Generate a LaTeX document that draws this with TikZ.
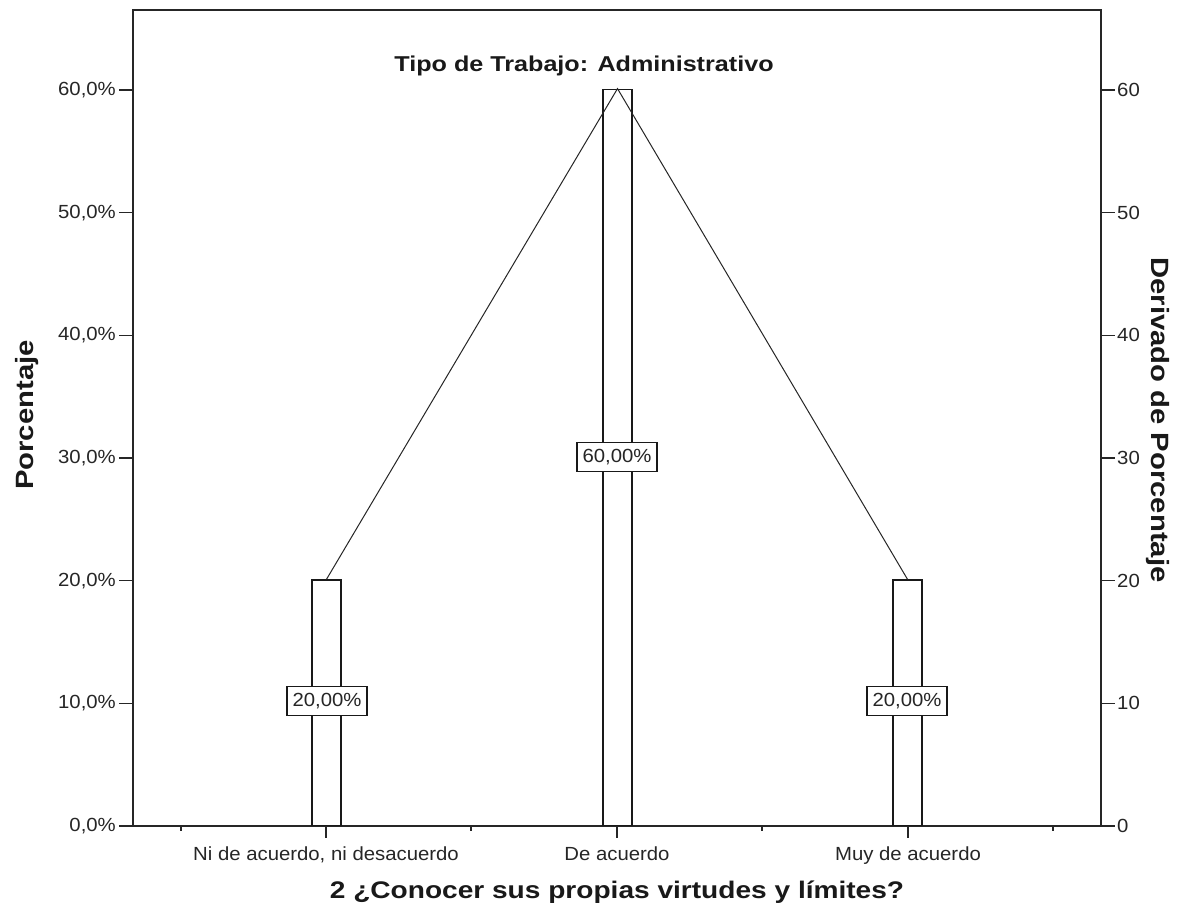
\documentclass[tikz,border=0pt]{standalone}
\usepackage{fontspec}
\setmainfont{Liberation Sans}
\newfontfamily\plainlab[FakeStretch=1.07]{Liberation Sans}
\newfontfamily\boldlab[FakeStretch=1.17]{Liberation Sans}
\begin{document}
\begin{tikzpicture}[x=1pt,y=-1pt,
  axisline/.style={line width=1.6pt,draw=black!85},
  tickmark/.style={line width=1.4pt,draw=black!85},
  ticklab/.style={font=\plainlab\fontsize{19}{21}\selectfont,text=black!85,inner sep=0pt},
  catlab/.style={font=\plainlab\fontsize{19}{21}\selectfont,text=black!85,inner sep=0pt,anchor=base},
  barbox/.style={draw=black!90,fill=white,line width=1.4pt,minimum width=29pt,inner sep=0pt,anchor=south},
  valbox/.style={draw=black!90,fill=white,line width=1.4pt,minimum width=80pt,minimum height=29pt,inner sep=0pt,
    font=\plainlab\fontsize{19}{21}\selectfont,text=black!85},
  trend/.style={line width=1pt,draw=black!85},
  axtitle/.style={font=\boldlab\bfseries\fontsize{24}{26}\selectfont,text=black!90,inner sep=0pt},
  sidetitle/.style={font=\boldlab\bfseries\fontsize{25}{27}\selectfont,text=black!90,inner sep=0pt},
  headtitle/.style={font=\boldlab\bfseries\fontsize{21.5}{23}\selectfont,text=black!90,inner sep=0pt}]
\useasboundingbox[fill=white] (0,0) rectangle (1179,915);

% value axis: 0% at y=826, 10% every 122.67
\def\yzero{826}
\def\ystep{122.67}

% plot frame
\draw[axisline] (133,10) rectangle (1101,826);

% left (percent) and right (count) ticks with labels
\foreach \k/\pl in {0/{0,0\%},1/{10,0\%},2/{20,0\%},3/{30,0\%},4/{40,0\%},5/{50,0\%},6/{60,0\%}}{
  \pgfmathsetmacro{\yy}{\yzero-\k*\ystep}
  \draw[tickmark] (119,\yy) -- (133,\yy);
  \node[ticklab,anchor=east] (pl\k) at (116,\yy) {\pl};
  \draw[tickmark] (1101,\yy) -- (1115,\yy);
  \pgfmathtruncatemacro{\cnt}{\k*10}
  \node[ticklab,anchor=west] (cl\k) at (1117,\yy) {\cnt};
}

% category ticks (major) and separators (minor)
\foreach \xx in {326,617,908}{\draw[tickmark] (\xx,826) -- (\xx,838);}
\foreach \xx in {181,471,762,1053}{\draw[tickmark] (\xx,826) -- (\xx,831);}

% category labels, on a common baseline
\node[catlab] (c1) at (326,860) {Ni de acuerdo, ni desacuerdo};
\node[catlab] (c2) at (617,860) {De acuerdo};
\node[catlab] (c3) at (908,860) {Muy de acuerdo};

% bars
\coordinate (base1) at (326.5,826);
\coordinate (base2) at (617.5,826);
\coordinate (base3) at (907.5,826);
\node[barbox,minimum height=245.3pt] (b1) at (base1) {};
\node[barbox,minimum height=736pt] (b2) at (base2) {};
\node[barbox,minimum height=245.3pt] (b3) at (base3) {};

% line joining bar tops
\draw[trend] (b1.north) -- (b2.north) -- (b3.north);

% value labels
\node[valbox] (v1) at (327,701) {20,00\%};
\node[valbox] (v2) at (617,457) {60,00\%};
\node[valbox] (v3) at (907,701) {20,00\%};

% titles
\node[headtitle,anchor=base] (ttl) at (584,72) {Tipo de Trabajo: Administrativo};
\node[axtitle,anchor=base] (xt) at (617,898) {2 ¿Conocer sus propias virtudes y límites?};
\node[sidetitle,rotate=90] (yt) at (27,415) {Porcentaje};
\node[sidetitle,rotate=-90] (rt) at (1158,420) {Derivado de Porcentaje};
\end{tikzpicture}
\end{document}
